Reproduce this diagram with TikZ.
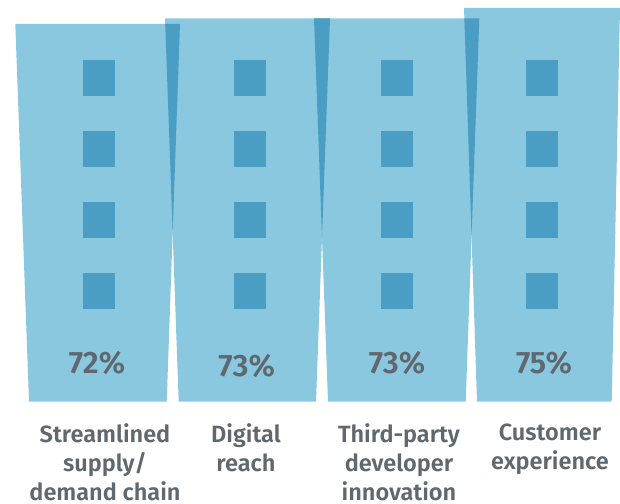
\documentclass[tikz,border=0pt]{standalone}
\usepackage{fontspec}
\setmainfont{Fira Sans}
\newfontfamily\lblfont{Fira Sans SemiBold}
\definecolor{lightb}{RGB}{138,200,224}
\definecolor{darkb}{RGB}{74,158,196}
\definecolor{txtgray}{RGB}{94,104,110}
\tikzset{
  pct/.style={anchor=base, inner sep=0pt, text=txtgray, font=\lblfont\fontsize{31}{33}\selectfont},
  lbl/.style={anchor=north, inner sep=0pt, align=center, text=txtgray, font=\lblfont\fontsize{23.5}{29}\selectfont},
  win/.style={fill=darkb}
}
\begin{document}
\begin{tikzpicture}[x=1pt,y=-1pt]
\useasboundingbox (0,0) rectangle (620,503);
\clip (0,0) rectangle (620,503);
% building shapes
\def\shA{(15.3,24) -- (180,24) -- (166.7,401.7) -- (29,401.7) -- cycle}
\def\shB{(165,18.3) -- (330,18.3) -- (316,401.7) -- (178.7,401.7) -- cycle}
\def\shC{(314,18.3) -- (479.3,18.3) -- (465.7,401.7) -- (328,401.7) -- cycle}
\def\shD{(464,8) -- (620,8) -- (611.7,401.7) -- (477,401.7) -- cycle}
\fill[lightb] \shA;
\fill[lightb] \shB;
\fill[lightb] \shC;
\fill[lightb] \shD;
% overlaps
\begin{scope}\clip \shA; \fill[darkb] \shB; \end{scope}
\begin{scope}\clip \shB; \fill[darkb] \shC; \end{scope}
\begin{scope}\clip \shC; \fill[darkb] \shD; \end{scope}
% windows
\foreach \cx in {82.7,234,381,526}{
  \foreach \cy in {60,131,202,273}{
    \fill[win] (\cx,\cy) rectangle ++(32,35.7);
  }
}
% percentages
\node[pct] (p1) at (97,373.3) {72\%};
\node[pct] (p2) at (246.7,376.7) {73\%};
\node[pct] (p3) at (397,373.3) {73\%};
\node[pct] (p4) at (544,373.3) {75\%};
% labels
\node[lbl] (l1) at (105,423.5) {Streamlined\\supply/\\demand chain};
\node[lbl] (l2) at (246,423.5) {Digital\\reach};
\node[lbl] (l3) at (399,423.5) {Third-party\\developer\\innovation};
\node[lbl] (l4) at (550,423.5) {Customer\\experience};
\end{tikzpicture}
\end{document}
